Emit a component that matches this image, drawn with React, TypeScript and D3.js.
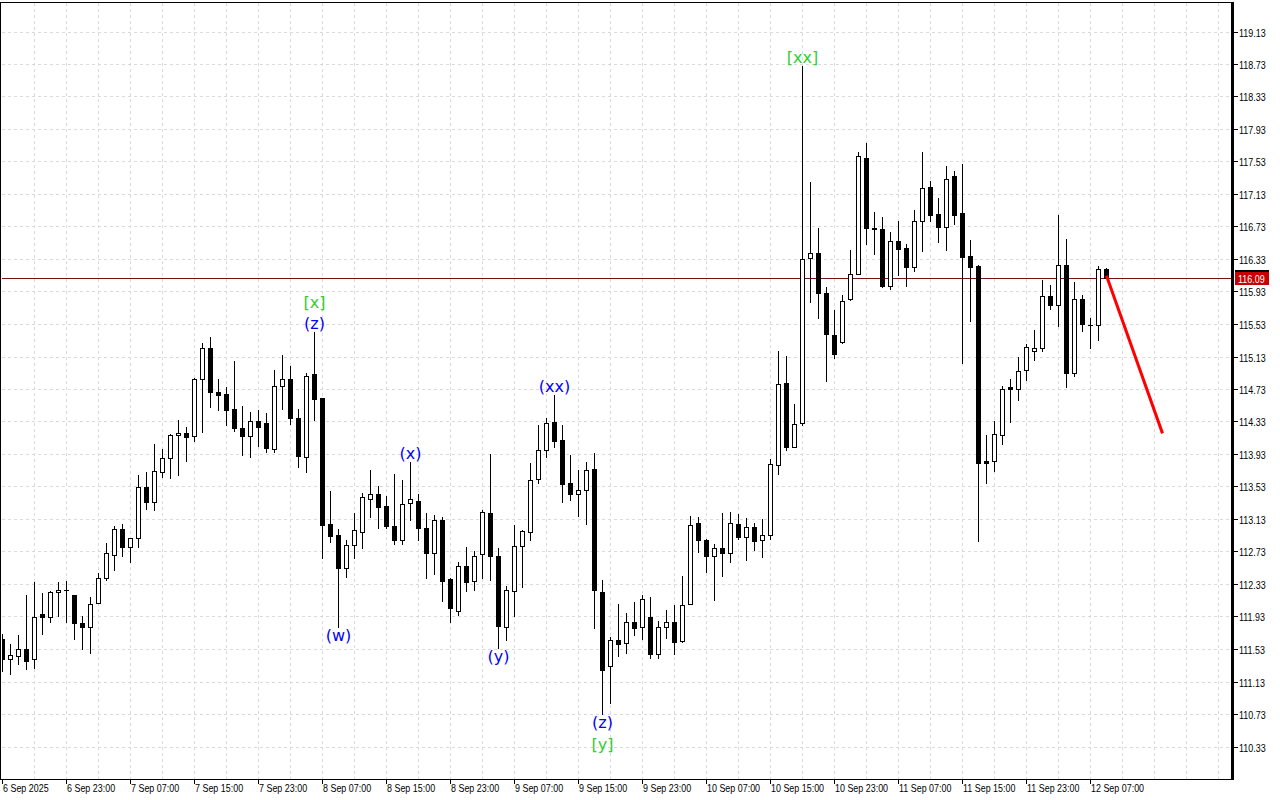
import React from 'react';
import * as d3 from 'd3';

const timeLabels = [
  '6 Sep 2025', '6 Sep 23:00', '7 Sep 07:00', '7 Sep 15:00', '7 Sep 23:00', '8 Sep 07:00',
  '8 Sep 15:00', '8 Sep 23:00', '9 Sep 07:00', '9 Sep 15:00', '9 Sep 23:00', '10 Sep 07:00',
  '10 Sep 15:00', '10 Sep 23:00', '11 Sep 07:00', '11 Sep 15:00', '11 Sep 23:00', '12 Sep 07:00',
];

const priceTicks = [
  119.13, 118.73, 118.33, 117.93, 117.53, 117.13, 116.73, 116.33, 115.93, 115.53, 115.13, 114.73,
  114.33, 113.93, 113.53, 113.13, 112.73, 112.33, 111.93, 111.53, 111.13, 110.73, 110.33,
];

const opens = [
  111.65, 111.405, 111.438, 111.536, 111.413, 111.959, 111.918, 112.226, 112.25, 112.193,
  111.848, 111.803, 112.09, 112.398, 112.693, 113.013, 112.788, 112.89, 113.518, 113.341,
  113.711, 113.875, 114.162, 114.187, 114.146, 114.851, 115.229, 114.687, 114.663, 114.482,
  114.256, 114.154, 114.33, 114.306, 113.99, 114.761, 114.859, 114.367, 113.887, 114.909,
  114.617, 113.067, 112.931, 112.521, 112.812, 112.964, 113.376, 113.442, 113.294, 113.048,
  112.867, 113.327, 113.356, 113.023, 112.707, 113.122, 112.396, 111.998, 112.552, 112.367,
  112.699, 113.204, 112.675, 111.801, 112.244, 112.798, 112.97, 113.622, 113.979, 114.324,
  114.102, 113.573, 113.438, 113.487, 113.745, 112.232, 111.321, 111.641, 111.604, 111.862,
  111.801, 111.924, 111.469, 111.801, 111.862, 111.629, 112.084, 113.081, 112.872, 112.675,
  112.773, 112.711, 113.068, 112.909, 113.036, 112.872, 112.933, 113.795, 114.804, 114.012,
  114.312, 116.342, 116.403, 115.911, 115.394, 115.308, 115.837, 116.145, 117.573, 116.711,
  116.699, 115.993, 116.551, 116.465, 116.227, 116.792, 117.222, 116.878, 116.718, 117.346,
  116.902, 116.361, 116.246, 113.838, 113.838, 114.158, 114.749, 114.736, 114.958, 115.192,
  115.229, 115.869, 115.758, 116.258, 114.933, 115.832, 115.512, 115.512, 116.213,
];

const highs = [
  111.72, 111.59, 111.7, 112.193, 112.349, 112.217, 112.242, 112.349, 112.365, 112.2,
  111.93, 112.164, 112.463, 112.833, 113.038, 113.067, 112.89, 113.67, 113.711, 114.051,
  113.99, 114.17, 114.347, 114.265, 114.86, 115.302, 115.364, 114.851, 114.749, 115.069,
  114.515, 114.453, 114.47, 114.429, 114.962, 115.147, 115.007, 114.49, 114.933, 115.426,
  114.62, 113.469, 113.013, 112.874, 113.202, 113.444, 113.737, 113.54, 113.417, 113.688,
  113.614, 113.836, 113.438, 113.204, 113.175, 113.155, 112.4, 112.605, 112.79, 112.732,
  113.245, 113.934, 112.773, 112.31, 113.06, 112.99, 113.819, 114.291, 114.373, 114.66,
  114.291, 113.922, 113.737, 113.832, 113.942, 112.383, 111.674, 112.084, 111.973, 112.108,
  112.195, 112.17, 111.87, 112.01, 112.072, 112.433, 113.167, 113.15, 112.88, 112.818,
  113.204, 113.216, 113.192, 113.147, 113.081, 113.13, 113.873, 115.201, 115.14, 114.55,
  118.701, 117.277, 116.711, 115.985, 115.706, 115.886, 116.444, 117.646, 117.757, 116.908,
  116.846, 116.662, 116.797, 116.514, 116.932, 117.641, 117.284, 117.075, 117.469, 117.407,
  117.505, 116.558, 116.258, 114.162, 114.33, 114.761, 114.851, 115.13, 115.282, 115.45,
  116.066, 116.008, 116.866, 116.582, 116.041, 115.885, 115.598, 116.238, 116.22,
];

const lows = [
  111.26, 111.22, 111.343, 111.282, 111.302, 111.713, 111.865, 111.93, 111.865, 111.651,
  111.528, 111.479, 112.09, 112.382, 112.504, 112.677, 112.603, 112.788, 113.251, 113.243,
  113.641, 113.633, 113.674, 113.846, 114.092, 114.203, 114.511, 114.474, 114.289, 114.211,
  113.92, 113.887, 114.031, 113.957, 113.949, 114.49, 114.297, 113.772, 113.711, 114.347,
  112.656, 112.849, 111.795, 112.422, 112.656, 112.767, 113.15, 113.015, 113.015, 112.818,
  112.818, 113.122, 112.876, 112.4, 112.449, 112.117, 111.862, 111.944, 112.24, 112.26,
  112.4, 112.383, 111.538, 111.637, 111.932, 112.289, 112.867, 113.573, 113.893, 114.012,
  113.335, 113.36, 113.163, 113.068, 111.784, 110.73, 110.865, 111.44, 111.481, 111.698,
  111.653, 111.415, 111.415, 111.661, 111.465, 111.616, 112.08, 112.724, 112.478, 112.129,
  112.424, 112.601, 112.884, 112.63, 112.753, 112.658, 112.884, 113.684, 113.975, 114.01,
  114.283, 115.796, 115.603, 114.824, 115.111, 115.3, 115.821, 116.14, 116.514, 116.391,
  115.99, 115.96, 116.133, 115.993, 116.178, 116.431, 116.8, 116.541, 116.443, 116.759,
  115.056, 115.569, 112.861, 113.567, 113.723, 114.047, 114.318, 114.589, 114.835, 115.081,
  115.192, 115.709, 115.507, 114.749, 114.884, 115.438, 115.229, 115.327, 116.09,
];

const closes = [
  111.41, 111.454, 111.536, 111.385, 111.918, 111.926, 112.226, 112.254, 112.25, 111.856,
  111.803, 112.078, 112.398, 112.706, 113.005, 112.788, 112.89, 113.518, 113.341, 113.715,
  113.875, 114.162, 114.187, 114.142, 114.859, 115.229, 114.687, 114.658, 114.474, 114.252,
  114.154, 114.33, 114.265, 113.998, 114.761, 114.859, 114.367, 113.908, 114.892, 114.613,
  113.058, 112.923, 112.521, 112.808, 112.989, 113.395, 113.438, 113.278, 113.04, 112.867,
  113.315, 113.376, 113.015, 112.707, 113.118, 112.363, 112.03, 112.552, 112.351, 112.675,
  113.216, 112.67, 111.809, 112.256, 112.798, 112.982, 113.61, 113.979, 114.312, 114.09,
  113.561, 113.438, 113.487, 113.737, 112.252, 111.268, 111.641, 111.592, 111.858, 111.788,
  112.145, 111.469, 111.801, 111.862, 111.616, 112.072, 113.056, 112.872, 112.675, 112.773,
  112.711, 113.081, 112.904, 113.036, 112.855, 112.933, 113.807, 114.792, 114.012, 114.299,
  116.334, 116.403, 115.911, 115.406, 115.164, 115.813, 116.145, 117.597, 116.711, 116.699,
  115.993, 116.551, 116.453, 116.227, 116.797, 117.198, 116.874, 116.718, 117.309, 116.874,
  116.349, 116.234, 113.825, 113.825, 114.182, 114.736, 114.736, 114.946, 115.241, 115.229,
  115.869, 115.758, 116.258, 114.933, 115.832, 115.524, 115.512, 116.213, 116.09,
];

const currentPrice = 116.09;
const currentPriceLabel = '116.09';

const forecastBars = [138, 145];
const forecastPrices = [116.13, 114.19];

const waveBars = [39, 39, 42, 51, 62, 69, 75, 75, 100];
const waveTexts = ['(z)', '[x]', '(w)', '(x)', '(y)', '(xx)', '(z)', '[y]', '[xx]'];
const waveSides = ['high', 'high', 'low', 'high', 'low', 'high', 'low', 'low', 'high'];
const waveLevels = [0, 1, 0, 0, 0, 0, 0, 1, 0];

const W = 1280;
const H = 800;
const PLOT_LEFT = 2;
const PLOT_RIGHT = 1231;
const PLOT_TOP = 2;
const PLOT_BOTTOM = 779;
const AXIS_FONT = '"Liberation Sans", Arial, sans-serif';
const WAVE_FONT = '"DejaVu Sans", Verdana, sans-serif';
const SX = 0.85;

export default function App() {
  const x = d3.scaleLinear().domain([0, 1]).range([2, 10]);
  const y = d3.scaleLinear().domain([110.33, 119.13]).range([747, 32]);
  const row = (v: number) => Math.floor(y(v));
  const col = (i: number) => Math.round(x(i));

  const vGridBars = d3.range(4, 154, 4);
  const labelBars = timeLabels.map((_, i) => i * 8);

  const candles = opens.map((o, i) => {
    const c = closes[i];
    const cx = col(i);
    const yH = row(highs[i]);
    const yL = row(lows[i]);
    const yO = row(o);
    const yC = row(c);
    const top = Math.min(yO, yC);
    const bot = Math.max(yO, yC);
    const bull = c > o;
    return (
      <g key={i}>
        <rect x={cx} y={yH} width={1} height={yL - yH + 1} fill="#000" />
        {bot - top >= 2 ? (
          <rect
            x={cx - 1.5}
            y={top + 0.5}
            width={4}
            height={bot - top}
            fill={bull ? '#fff' : '#000'}
            stroke="#000"
            strokeWidth={1}
          />
        ) : (
          <rect x={cx - 2} y={top} width={5} height={bot - top + 1} fill="#000" />
        )}
      </g>
    );
  });

  const line = d3
    .line<number>()
    .x((b) => col(b) + 0.5)
    .y((_, i) => y(forecastPrices[i]));

  const priceRow = row(currentPrice);

  return (
    <svg
      width={W}
      height={H}
      style={{ position: 'absolute', left: 0, top: 0, display: 'block', background: '#fff' }}
    >
      <defs>
        <clipPath id="plotClip">
          <rect x={PLOT_LEFT} y={PLOT_TOP + 1} width={PLOT_RIGHT - PLOT_LEFT} height={PLOT_BOTTOM - PLOT_TOP - 1} />
        </clipPath>
      </defs>
      <rect x={0} y={0} width={W} height={H} fill="#fff" />

      {/* grid */}
      <g stroke="#dadada" strokeWidth={1} strokeDasharray="3,3" shapeRendering="crispEdges">
        {priceTicks.map((p) => (
          <line key={'h' + p} x1={PLOT_LEFT} x2={PLOT_RIGHT} y1={row(p) + 0.5} y2={row(p) + 0.5} />
        ))}
        {vGridBars
          .filter((b) => col(b) < PLOT_RIGHT - 1)
          .map((b) => (
            <line key={'v' + b} x1={col(b) + 0.5} x2={col(b) + 0.5} y1={PLOT_TOP + 1} y2={PLOT_BOTTOM} />
          ))}
      </g>

      {/* current price line */}
      <rect x={PLOT_LEFT} y={priceRow} width={PLOT_RIGHT - PLOT_LEFT} height={1} fill="#7a1010" />

      {/* candles */}
      <g clipPath="url(#plotClip)" shapeRendering="crispEdges">
        {candles}
      </g>

      {/* forecast line */}
      <path
        d={line(forecastBars) || ''}
        fill="none"
        stroke="#ff0000"
        strokeWidth={3}
        clipPath="url(#plotClip)"
      />

      {/* wave labels */}
      <g fontFamily={WAVE_FONT} fontSize={16} textAnchor="middle" dominantBaseline="central">
        {waveBars.map((b, i) => {
          const isHigh = waveSides[i] === 'high';
          const cy = isHigh
            ? row(highs[b]) - 9 - 21 * waveLevels[i]
            : row(lows[b]) + 8 + 22 * waveLevels[i];
          const color = waveTexts[i].startsWith('[') ? '#32cd32' : '#0000ff';
          return (
            <text key={'w' + i} x={col(b) + 0.5} y={cy} fill={color}>
              {waveTexts[i]}
            </text>
          );
        })}
      </g>

      {/* frame */}
      <g fill="#000" shapeRendering="crispEdges">
        <rect x={0} y={PLOT_TOP} width={PLOT_RIGHT + 3} height={1} />
        <rect x={0} y={PLOT_TOP} width={1} height={PLOT_BOTTOM - PLOT_TOP + 1} />
        <rect x={0} y={PLOT_BOTTOM} width={PLOT_RIGHT + 3} height={1} />
        <rect x={PLOT_RIGHT} y={PLOT_TOP} width={3} height={PLOT_BOTTOM - PLOT_TOP + 1} />
      </g>

      {/* price axis */}
      <g fontFamily={AXIS_FONT} fontSize={10.5} fill="#000">
        {priceTicks.map((p) => {
          const r = row(p);
          return (
            <g key={'p' + p}>
              <rect x={PLOT_RIGHT + 3} y={r} width={4} height={1} fill="#000" />
              <text transform={`translate(1239,${r + 4.5}) scale(${SX},1)`}>{p.toFixed(2)}</text>
            </g>
          );
        })}
        <rect x={1235} y={priceRow - 8} width={34} height={2} fill="#000" />
        <rect x={1235} y={priceRow - 6} width={34} height={13} fill="#c80000" />
        <text transform={`translate(1238,${priceRow + 4.5}) scale(${SX},1)`} fill="#fff">
          {currentPriceLabel}
        </text>
      </g>

      {/* time axis */}
      <g fontFamily={AXIS_FONT} fontSize={10.5} fill="#000">
        {labelBars.map((b, i) => {
          const cx = col(b);
          return (
            <g key={'t' + b}>
              <rect x={cx} y={PLOT_BOTTOM} width={1} height={5} fill="#000" />
              <text transform={`translate(${cx + 1},${PLOT_BOTTOM + 13}) scale(${SX},1)`}>
                {timeLabels[i]}
              </text>
            </g>
          );
        })}
      </g>
    </svg>
  );
}
